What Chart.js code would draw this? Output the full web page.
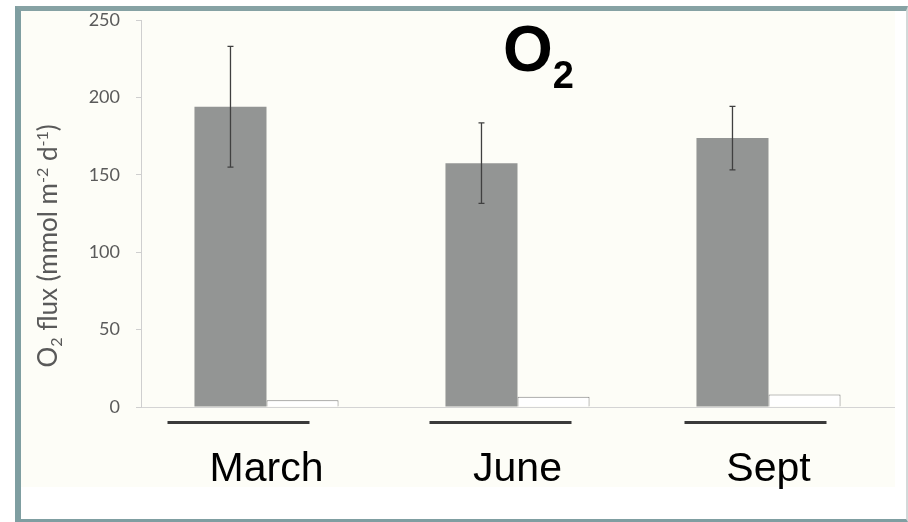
<!DOCTYPE html>
<html>
<head>
<meta charset="utf-8">
<script src="https://cdn.jsdelivr.net/npm/chart.js@4.4.1/dist/chart.umd.min.js"></script>
<style>
  html, body { margin: 0; padding: 0; background: #fff; }
  #wrap { position: relative; width: 908px; height: 522px; overflow: hidden; }
  #frame {
    position: absolute; left: 15px; top: 6px; right: 0; bottom: 0;
    border-left: 6px solid #7f9ea1; border-top: 5px solid #86a2a4;
    border-bottom: 3px solid #7f9ea1; border-right: 2px solid #d3d9d9;
    background: #fff;
  }
  #paper { position: absolute; left: 21px; top: 11px; width: 874px; height: 476px; background: #fdfdf7; }
  canvas { position: absolute; left: 0; top: 0; }
</style>
</head>
<body>
<div id="wrap">
  <div id="frame"></div>
  <div id="paper"></div>
  <canvas id="chart" width="908" height="522"></canvas>
</div>
<script>
// values
const months = ['March', 'June', 'Sept'];
const fluxValues = [194, 157.5, 173.7];
const fluxErrors = [39, 26, 20.5];
const otherValues = [4.3, 6.7, 8];
const yTicks = [0, 50, 100, 150, 200, 250];

// rotated y title with sub/superscripts
const yTitleParts = [
    { t: 'O' }, { t: '2', sub: true }, { t: ' flux (mmol m' },
    { t: '-2', sup: true }, { t: ' d' }, { t: '-1', sup: true }, { t: ')' }
];

const extras = {
    id: 'extras',
    afterDatasetsDraw(chart) {
        const ctx = chart.ctx;
        const y = chart.scales.y;
        const meta = chart.getDatasetMeta(0);
        ctx.save();
        ctx.strokeStyle = '#404040';
        ctx.lineWidth = 1.3;
        meta.data.forEach((bar, i) => {
            const top = y.getPixelForValue(fluxValues[i] + fluxErrors[i]);
            const bot = y.getPixelForValue(fluxValues[i] - fluxErrors[i]);
            ctx.beginPath();
            ctx.moveTo(bar.x, top); ctx.lineTo(bar.x, bot);
            ctx.moveTo(bar.x - 3, top); ctx.lineTo(bar.x + 3, top);
            ctx.moveTo(bar.x - 3, bot); ctx.lineTo(bar.x + 3, bot);
            ctx.stroke();
        });
        ctx.restore();
    },
    afterDraw(chart, args, opts) {
        const ctx = chart.ctx;
        const x = chart.scales.x;
        const area = chart.chartArea;

        // dark lines under each month group
        ctx.save();
        ctx.strokeStyle = '#3a3a3a';
        ctx.lineWidth = 3;
        months.forEach((m, i) => {
            const cx = x.getPixelForValue(i) + opts.lineShift[i];
            ctx.beginPath();
            ctx.moveTo(cx - 71, area.bottom + 15.5);
            ctx.lineTo(cx + 71, area.bottom + 15.5);
            ctx.stroke();
        });
        ctx.restore();

        // big title O2
        ctx.save();
        ctx.fillStyle = '#000';
        ctx.textBaseline = 'alphabetic';
        ctx.font = 'bold 64px "Liberation Sans", Arial, sans-serif';
        ctx.fillText('O', 503, 71);
        const ow = ctx.measureText('O').width;
        ctx.font = 'bold 38px "Liberation Sans", Arial, sans-serif';
        ctx.fillText('2', 503 + ow, 88);
        ctx.restore();

        // y axis title
        ctx.save();
        ctx.fillStyle = '#595959';
        ctx.textBaseline = 'alphabetic';
        const big = '26px Lato, sans-serif';
        const small = '16px Lato, sans-serif';
        let total = 0;
        yTitleParts.forEach(p => {
            ctx.font = (p.sub || p.sup) ? small : big;
            p.w = ctx.measureText(p.t).width;
            total += p.w;
        });
        ctx.translate(57, 246);
        ctx.rotate(-Math.PI / 2);
        let px = -total / 2;
        yTitleParts.forEach(p => {
            ctx.font = (p.sub || p.sup) ? small : big;
            const dy = p.sub ? 5 : (p.sup ? -9 : 0);
            ctx.fillText(p.t, px, dy);
            px += p.w;
        });
        ctx.restore();
    }
};

new Chart(document.getElementById('chart'), {
    type: 'bar',
    data: {
        labels: months,
        datasets: [{
            label: 'O2 flux',
            data: fluxValues,
            backgroundColor: '#939594',
            borderWidth: 0,
            categoryPercentage: 0.574,
            barPercentage: 1
        }, {
            label: 'other',
            data: otherValues,
            backgroundColor: '#ffffff',
            borderColor: '#7f7f7f',
            borderWidth: 1,
            categoryPercentage: 0.574,
            barPercentage: 1
        }]
    },
    options: {
        responsive: false,
        animation: false,
        events: [],
        layout: { padding: { top: 20, right: 14, bottom: 0, left: 0 } },
        plugins: {
            legend: { display: false },
            tooltip: { enabled: false },
            extras: { lineShift: [-28, -17, -13] }
        },
        scales: {
            x: {
                afterFit(s) { s.height = 115; },
                grid: { display: false },
                border: { display: true, color: '#d4d4d4' },
                ticks: {
                    color: '#000',
                    font: { family: '"Liberation Sans", Arial, sans-serif', size: 41 },
                    padding: 30
                }
            },
            y: {
                min: 0,
                max: 250,
                afterFit(s) { s.width = 141; s.paddingTop = 8; s.paddingBottom = 8; },
                afterBuildTicks(s) { s.ticks = yTicks.map(v => ({ value: v })); },
                grid: { drawOnChartArea: false, drawTicks: true, tickLength: 5, color: '#cfcfcf' },
                border: { color: '#cfcfcf' },
                ticks: {
                    color: '#5a5a5a',
                    font: { family: 'Lato, sans-serif', size: 18 },
                    padding: 16
                }
            }
        }
    },
    plugins: [extras]
});
</script>
</body>
</html>
